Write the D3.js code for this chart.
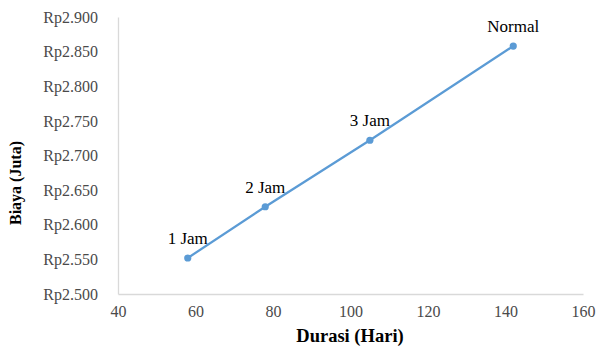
<!DOCTYPE html>
<html><head><meta charset="utf-8">
<script src="https://cdn.jsdelivr.net/npm/d3@7"></script>
<style>body{margin:0;background:#fff}svg{display:block}</style>
</head><body>
<svg id="c" width="597" height="349"></svg>
<script>
const labels = ["1 Jam", "2 Jam", "3 Jam", "Normal"];
const durasi = [58, 78, 105, 142];
const biaya = [2552, 2626, 2722, 2858];
const xTicks = [40, 60, 80, 100, 120, 140, 160];
const yTicks = [2500, 2550, 2600, 2650, 2700, 2750, 2800, 2850, 2900];

const FONT = "Liberation Serif";
const svg = d3.select("#c");
const x = d3.scaleLinear().domain([40, 160]).range([118, 583]);
const y = d3.scaleLinear().domain([2500, 2900]).range([294, 17]);
const fmt = v => "Rp" + (v / 1000).toFixed(3);

const xa = svg.append("g").attr("transform", "translate(0,294)")
  .call(d3.axisBottom(x).tickValues(xTicks).tickSize(0).tickPadding(12).tickFormat(d => d));
xa.select(".domain").attr("stroke", "#d9d9d9").attr("stroke-width", 1.3);
xa.selectAll("text").style("font-family", FONT).style("font-size", "16px").attr("fill", "#4a4a4a");

const ya = svg.append("g").attr("transform", "translate(118,0)")
  .call(d3.axisLeft(y).tickValues(yTicks).tickSize(0).tickPadding(20).tickFormat(fmt));
ya.select(".domain").attr("stroke", "#d9d9d9").attr("stroke-width", 1.3);
ya.selectAll("text").style("font-family", FONT).style("font-size", "16px").attr("fill", "#4a4a4a");

const data = labels.map((l, i) => ({l, x: durasi[i], y: biaya[i]}));
svg.append("path").datum(data)
  .attr("fill", "none").attr("stroke", "#5b9bd5").attr("stroke-width", 2.25)
  .attr("d", d3.line().x(d => x(d.x)).y(d => y(d.y)));
svg.selectAll("circle.p").data(data).join("circle")
  .attr("cx", d => x(d.x)).attr("cy", d => y(d.y)).attr("r", 3.6).attr("fill", "#5b9bd5");
svg.selectAll("text.lbl").data(data).join("text")
  .attr("x", d => x(d.x)).attr("y", d => y(d.y) - 14)
  .attr("text-anchor", "middle").style("font-family", FONT).style("font-size", "17px")
  .attr("fill", "#000").text(d => d.l);

svg.append("text").attr("x", 350).attr("y", 342).attr("text-anchor", "middle")
  .style("font-family", FONT).style("font-size", "18.5px").style("font-weight", "bold").attr("fill", "#000")
  .text("Durasi (Hari)");
svg.append("text").attr("transform", "translate(21,183) rotate(-90)").attr("text-anchor", "middle")
  .style("font-family", FONT).style("font-size", "16px").style("font-weight", "bold").attr("fill", "#000")
  .text("Biaya (Juta)");
</script>
</body></html>
